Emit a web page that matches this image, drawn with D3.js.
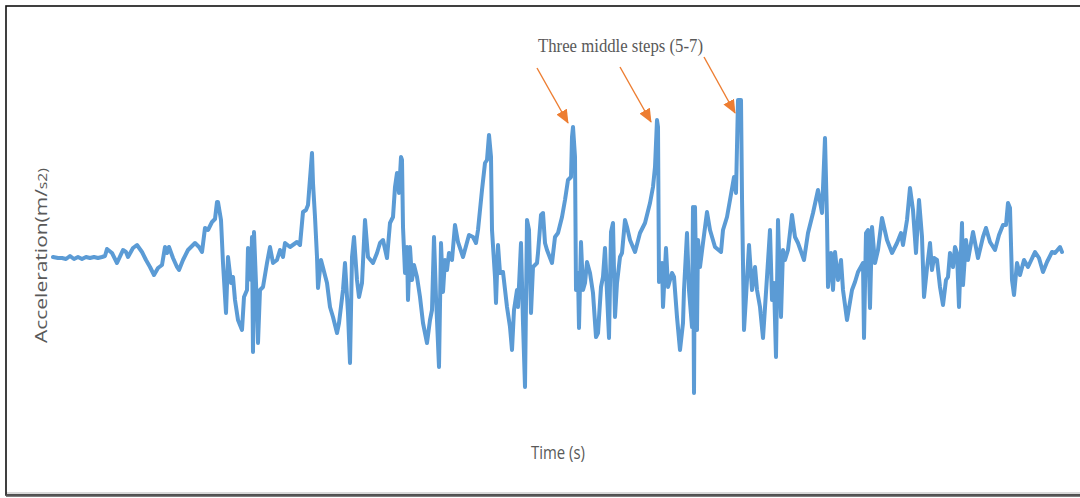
<!DOCTYPE html>
<html>
<head>
<meta charset="utf-8">
<script src="https://cdn.jsdelivr.net/npm/d3@7"></script>
<style>
  html, body { margin: 0; padding: 0; background: #fff; }
  svg { display: block; }
</style>
</head>
<body>
<svg id="chart" width="1080" height="498"></svg>
<script>
// ---- Data (time in s, acceleration in m/s²) ----
const time = [
  0.01,0.06,0.10,0.14,0.18,0.22,0.26,0.30,0.34,0.38,0.42,0.46,0.50,0.53,0.55,0.60,0.65,0.71,0.74,0.76,
  0.81,0.85,0.90,0.94,0.98,1.02,1.06,1.10,1.13,1.15,1.17,1.21,1.25,1.27,1.31,1.36,1.43,1.47,1.50,1.53,
  1.56,1.60,1.63,1.65,1.66,1.69,1.71,1.74,1.76,1.79,1.81,1.83,1.86,1.90,1.92,1.95,1.96,1.99,2.00,2.01,
  2.02,2.04,2.06,2.08,2.11,2.15,2.18,2.21,2.25,2.28,2.31,2.33,2.38,2.45,2.48,2.51,2.54,2.56,2.60,2.61,
  2.63,2.65,2.66,2.69,2.75,2.78,2.81,2.85,2.87,2.91,2.93,2.96,2.98,3.00,3.02,3.05,3.07,3.10,3.13,3.16,
  3.21,3.25,3.28,3.31,3.35,3.38,3.41,3.43,3.45,3.47,3.49,3.50,3.51,3.53,3.55,3.56,3.58,3.60,3.62,3.65,
  3.68,3.71,3.75,3.78,3.80,3.82,3.84,3.87,3.89,3.91,3.93,3.95,3.97,4.00,4.03,4.06,4.11,4.17,4.21,4.24,
  4.26,4.30,4.33,4.35,4.37,4.39,4.40,4.43,4.44,4.46,4.48,4.51,4.55,4.58,4.60,4.62,4.65,4.66,4.69,4.71,
  4.73,4.75,4.77,4.79,4.81,4.85,4.86,4.89,4.91,4.93,4.95,5.00,5.03,5.06,5.10,5.13,5.16,5.19,5.20,5.21,
  5.23,5.24,5.26,5.27,5.29,5.31,5.33,5.35,5.38,5.41,5.44,5.46,5.49,5.51,5.53,5.55,5.57,5.59,5.61,5.63,
  5.65,5.68,5.70,5.73,5.75,5.78,5.83,5.88,5.93,5.98,6.01,6.03,6.05,6.06,6.07,6.10,6.11,6.14,6.16,6.20,
  6.22,6.25,6.28,6.31,6.32,6.35,6.37,6.40,6.41,6.42,6.43,6.45,6.46,6.48,6.51,6.55,6.58,6.63,6.69,6.71,
  6.75,6.78,6.82,6.84,6.86,6.89,6.90,6.92,6.94,6.97,7.00,7.03,7.05,7.08,7.11,7.15,7.18,7.20,7.22,7.24,
  7.26,7.29,7.31,7.33,7.36,7.40,7.43,7.46,7.52,7.56,7.61,7.66,7.70,7.73,7.75,7.76,7.79,7.81,7.83,7.86,
  7.89,7.91,7.95,8.00,8.03,8.06,8.11,8.12,8.14,8.16,8.18,8.20,8.23,8.26,8.30,8.35,8.40,8.45,8.49,8.51,
  8.55,8.58,8.61,8.64,8.67,8.70,8.72,8.75,8.78,8.80,8.82,8.85,8.88,8.91,8.94,8.96,8.98,9.01,9.03,9.05,
  9.07,9.10,9.11,9.14,9.16,9.21,9.26,9.31,9.34,9.38,9.43,9.47,9.51,9.54,9.56,9.58,9.60,9.62,9.65,9.68,
  9.72,9.76,9.83,9.87,9.91,9.95,10.00,10.03,10.08,10.10
];
const acceleration = [
  0.0,-0.1,-0.1,-0.2,0.1,-0.2,0.0,-0.2,0.0,-0.1,0.0,-0.1,0.0,0.1,0.8,0.4,-0.6,0.7,0.5,0.0,
  0.9,1.2,0.5,-0.3,-1.0,-1.8,-1.1,-0.8,1.0,0.4,1.0,-0.1,-1.0,-1.3,-0.3,0.7,1.4,1.0,0.5,2.9,
  2.7,3.5,3.8,5.5,5.5,3.7,-0.6,-5.6,0.0,-2.6,-2.0,-4.3,-6.3,-7.3,-4.0,-3.3,0.9,-2.3,2.0,-9.5,
  2.5,-2.6,-8.6,-3.3,-3.0,-0.6,1.0,-0.6,-0.3,0.7,0.0,1.4,1.0,1.5,1.2,4.5,4.7,5.2,10.4,7.4,
  4.0,0.0,-3.1,-0.3,-2.6,-5.0,-6.0,-7.6,-6.6,-3.3,-0.6,-5.6,-10.6,0.0,2.0,-2.3,-4.0,-2.6,3.7,0.0,
  -0.6,0.4,1.4,1.7,-0.1,3.4,4.0,7.0,8.4,6.4,10.0,9.7,3.0,-1.6,1.0,-4.3,1.0,-2.3,-0.8,-2.0,
  -4.0,-6.6,-8.6,-6.3,-5.3,2.0,-4.0,-11.0,1.4,-3.5,-0.3,-1.3,0.4,-0.3,3.2,1.5,0.0,2.2,2.0,1.4,
  2.7,6.7,9.4,9.7,12.2,10.0,2.7,-2.0,-4.6,1.2,-1.6,-1.5,-5.0,-7.0,-9.3,-5.3,-3.3,-5.0,1.4,-6.6,
  -13.0,3.7,2.7,-5.6,-1.0,-0.6,0.4,4.2,4.4,1.4,0.7,-0.6,2.0,2.4,4.0,5.7,7.7,8.0,12.0,13.0,
  10.0,-3.3,-1.6,-7.1,1.5,-3.3,-2.6,-0.5,-1.6,-3.6,-8.0,-7.6,-3.0,-2.0,0.9,-3.6,-8.1,2.5,3.4,-6.0,
  -2.6,0.0,0.4,3.7,3.0,1.7,0.5,2.4,3.4,5.4,7.0,9.0,13.7,13.0,-2.5,-0.6,-5.0,0.9,-3.0,-1.6,
  -2.0,-6.0,-9.3,-6.6,-3.3,2.4,-3.3,-7.0,5.0,-13.6,5.0,-7.3,1.7,-1.0,1.4,4.5,2.7,1.0,0.5,2.7,
  4.0,5.7,8.0,6.4,15.7,15.7,6.0,-7.3,-4.0,1.2,-3.3,-1.0,-3.3,-5.0,-8.1,-2.0,2.7,-4.3,-2.6,-10.0,
  3.7,-6.0,0.7,-0.3,0.7,4.2,2.0,1.4,-0.3,2.4,4.4,6.7,4.4,11.9,3.7,-3.0,0.4,-3.3,0.5,-2.3,
  -0.3,-3.3,-6.3,-3.3,-2.5,-1.5,-0.6,-8.1,2.4,2.7,-5.1,3.0,-0.6,0.7,3.9,1.7,0.4,1.4,2.4,1.2,
  3.7,6.9,4.7,0.4,5.7,2.0,-4.0,-1.1,1.4,-1.3,-0.1,-0.3,-3.0,-4.8,-2.3,-2.0,0.4,-1.0,1.0,0.4,
  -5.0,3.4,-2.8,1.7,-0.3,2.5,-0.1,2.0,2.9,1.5,0.7,2.2,3.2,3.2,5.4,4.9,-2.3,-3.8,-0.6,-1.8,
  -0.3,-1.0,0.5,-0.1,-1.5,-0.5,0.5,0.4,1.0,0.5
];

// Annotation: arrow tails and tips (time, acceleration) pointing to steps 5-7
const arrowTailT = [4.85, 5.68, 6.52];
const arrowTailV = [18.9, 19.0, 20.0];
const arrowTipT  = [5.16, 5.99, 6.83];
const arrowTipV  = [13.4, 13.5, 14.4];

const annotationText = "Three middle steps (5-7)";
const xTitle = "Time (s)";
const yTitleMain = "Acceleration(m/";
const yTitleUnit = "s2)";

// ---- Drawing ----
const svg = d3.select("#chart");
const W = 1080, H = 498;

// Frame
svg.append("rect").attr("x", 0).attr("y", 0).attr("width", W).attr("height", H).attr("fill", "#fff");
svg.append("line").attr("x1", 6).attr("x2", 1080).attr("y1", 493).attr("y2", 493)
   .attr("stroke", "#d9d9d9").attr("stroke-width", 2);
svg.append("rect").attr("x", 6).attr("y", 6).attr("width", 1080).attr("height", 489)
   .attr("fill", "none").attr("stroke", "#111").attr("stroke-width", 1.6);
svg.append("line").attr("x1", 6).attr("x2", 1080).attr("y1", 495.5).attr("y2", 495.5)
   .attr("stroke", "#555").attr("stroke-width", 2.5);

const x = d3.scaleLinear().domain([0, 10.1]).range([52, 1062]);
const y = d3.scaleLinear().domain([-15, 17]).range([407, 87]);

const data = time.map((t, i) => ({ t, v: acceleration[i] }));

const line = d3.line().x(d => x(d.t)).y(d => y(d.v)).curve(d3.curveLinear);

svg.append("path")
  .datum(data)
  .attr("d", line)
  .attr("fill", "none")
  .attr("stroke", "#5B9BD5")
  .attr("stroke-width", 4)
  .attr("stroke-linejoin", "round")
  .attr("stroke-linecap", "round");

// Arrow marker
svg.append("defs").append("marker")
  .attr("id", "arrowhead")
  .attr("markerUnits", "userSpaceOnUse")
  .attr("viewBox", "0 0 14 12")
  .attr("refX", 13).attr("refY", 6)
  .attr("markerWidth", 14).attr("markerHeight", 12)
  .attr("orient", "auto")
  .append("path")
  .attr("d", "M0,0 L14,6 L0,12 Z")
  .attr("fill", "#ED7D31");

svg.selectAll("line.arrow")
  .data(arrowTailT.map((t, i) => ({ t0: t, v0: arrowTailV[i], t1: arrowTipT[i], v1: arrowTipV[i] })))
  .enter().append("line")
  .attr("class", "arrow")
  .attr("x1", d => x(d.t0)).attr("y1", d => y(d.v0))
  .attr("x2", d => x(d.t1)).attr("y2", d => y(d.v1))
  .attr("stroke", "#ED7D31")
  .attr("stroke-width", 1.4)
  .attr("marker-end", "url(#arrowhead)");

// Annotation text
svg.append("text")
  .attr("x", 538).attr("y", 52)
  .attr("font-family", "'Liberation Serif', 'Times New Roman', serif")
  .attr("font-size", 18)
  .attr("fill", "#595959")
  .attr("textLength", 165)
  .attr("lengthAdjust", "spacingAndGlyphs")
  .text(annotationText);

// X title
svg.append("text")
  .attr("x", 531).attr("y", 459)
  .attr("font-family", "'Liberation Sans Narrow', 'Open Sans', sans-serif")
  .attr("font-size", 18)
  .attr("fill", "#595959")
  .attr("textLength", 54)
  .attr("lengthAdjust", "spacingAndGlyphs")
  .text(xTitle);

// Y title
const yt = svg.append("text")
  .attr("transform", "translate(47,343) rotate(-90)")
  .attr("font-family", "'Open Sans', 'Noto Sans', sans-serif")
  .attr("font-size", 16)
  .attr("fill", "#595959")
  .attr("textLength", 175)
  .attr("lengthAdjust", "spacingAndGlyphs");
yt.append("tspan").text(yTitleMain);
yt.append("tspan").attr("font-size", 12).text(yTitleUnit);
</script>
</body>
</html>
